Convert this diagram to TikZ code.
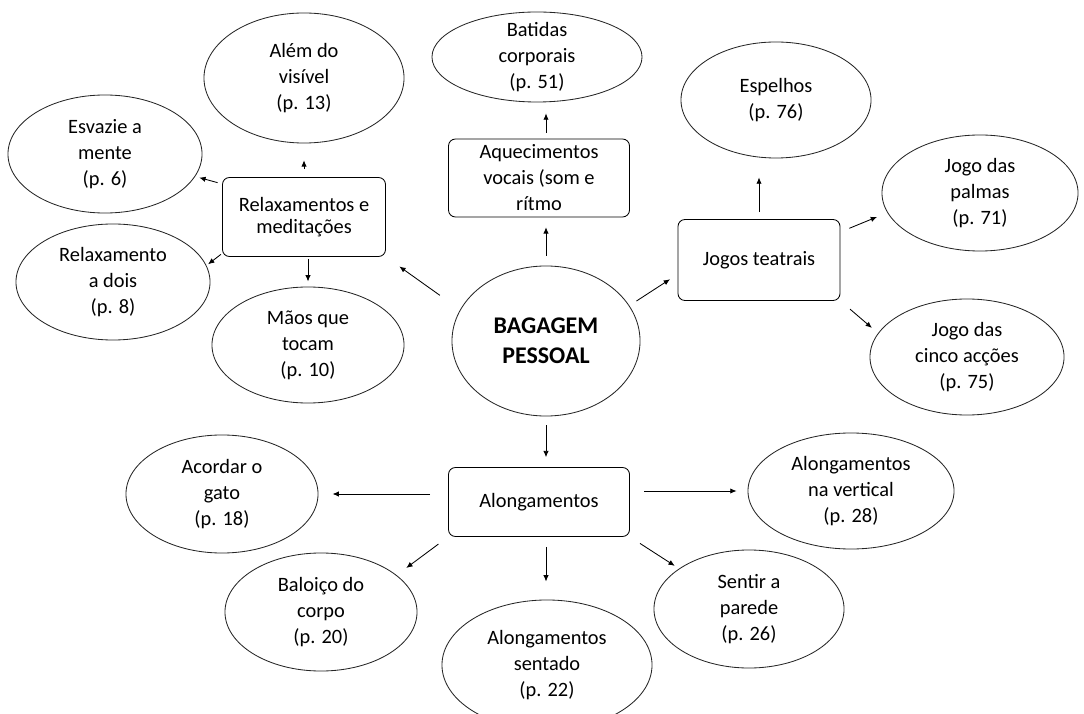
\documentclass[tikz,border=0pt]{standalone}
\usepackage{fontspec}
\setmainfont{Carlito}
\usetikzlibrary{shapes.geometric,arrows.meta}

\begin{document}
\begin{tikzpicture}[x=0.025cm, y=-0.025cm,
        bubble/.style={ellipse, draw=black!85, line width=0.6pt, inner sep=0pt, align=center, font=\fontsize{14.5}{18.5}\selectfont},
        topic/.style={rectangle, rounded corners=5pt, draw, line width=0.6pt, inner sep=0pt, align=center, font=\fontsize{14.5}{18.5}\selectfont},
        arr/.style={-{Latex[length=4.5pt,width=3.8pt]}, line width=0.6pt}]

        \useasboundingbox (0,0) rectangle (1084,714);
        \clip (0,0) rectangle (1084,714);

        \node[bubble, minimum width=4.7cm, minimum height=3.75cm, font=\fontsize{17}{21.5}\selectfont\bfseries] (bag) at (546,341) {BAGAGEM\\PESSOAL};

        \node[topic, minimum width=4.075cm, minimum height=1.975cm, font=\fontsize{14.5}{16}\selectfont] (relax) at (304,217) {Relaxamentos e\\meditações};
        \node[bubble, minimum width=5cm, minimum height=3.25cm] (alem) at (304,78) {Além do\\visível\\(p. 13)};
        \node[bubble, minimum width=4.85cm, minimum height=2.95cm] (esvazie) at (105,154) {Esvazie a\\mente\\(p. 6)};
        \node[bubble, minimum width=4.85cm, minimum height=2.9cm] (dois) at (113,282) {Relaxamento\\a dois\\(p. 8)};
        \node[bubble, minimum width=4.8cm, minimum height=2.9cm] (maos) at (308,345) {Mãos que\\tocam\\(p. 10)};

        \node[topic, minimum width=4.525cm, minimum height=1.95cm] (aquec) at (539,178) {Aquecimentos\\vocais (som e\\rítmo};
        \node[bubble, minimum width=5.25cm, minimum height=2.25cm, inner ysep=-8pt] (batidas) at (537,57) {Batidas\\corporais\\(p. 51)};

        \node[topic, minimum width=4.05cm, minimum height=2.025cm] (jogos) at (759,260) {Jogos teatrais};
        \node[bubble, minimum width=4.75cm, minimum height=2.9cm] (espelhos) at (776,100) {Espelhos\\(p. 76)};
        \node[bubble, minimum width=4.9cm, minimum height=2.9cm] (palmas) at (980,193) {Jogo das\\palmas\\(p. 71)};
        \node[bubble, minimum width=4.85cm, minimum height=2.9cm] (cinco) at (967,357) {Jogo das\\cinco acções\\(p. 75)};

        \node[topic, minimum width=4.525cm, minimum height=1.725cm] (along) at (539,502) {Alongamentos};
        \node[bubble, minimum width=4.8cm, minimum height=2.95cm] (acordar) at (222,494) {Acordar o\\gato\\(p. 18)};
        \node[bubble, minimum width=4.8cm, minimum height=2.95cm] (baloico) at (321,612) {Baloiço do\\corpo\\(p. 20)};
        \node[bubble, minimum width=5.25cm, minimum height=3.25cm] (sentado) at (547,665) {Alongamentos\\sentado\\(p. 22)};
        \node[bubble, minimum width=5.15cm, minimum height=2.9cm] (vertical) at (851,491) {Alongamentos\\na vertical\\(p. 28)};
        \node[bubble, minimum width=4.75cm, minimum height=2.95cm] (sentir) at (749,609) {Sentir a\\parede\\(p. 26)};

        \draw[arr, shorten <=17.6pt, shorten >=11.7pt] (bag.160) -- (relax.south east);
        \draw[arr, shorten <=5.7pt, shorten >=12pt] (relax.north) -- (alem.south);
        \draw[arr, shorten <=3.3pt, shorten >=3pt] (relax.158) -- (esvazie.346);
        \draw[arr, shorten <=1pt, shorten >=1.4pt] (relax.204) -- (dois.10);
        \draw[arr, shorten <=1.4pt, shorten >=3.6pt] (relax.south -| maos.north) -- (maos.north);

        \draw[arr, shorten <=7pt, shorten >=7pt] (bag.north) -- (bag.north |- aquec.south);
        \draw[arr, shorten <=4.3pt, shorten >=7.8pt] (bag.north |- aquec.north) -- (bag.north |- batidas.south);

        \draw[arr, shorten <=6pt, shorten >=6.4pt] (bag.23) -- (jogos.190);
        \draw[arr, shorten <=5pt, shorten >=13.5pt] (jogos.north) -- (jogos.north |- espelhos.south);
        \draw[arr, shorten <=6.8pt, shorten >=7.9pt] (jogos.19) -- (palmas.192);
        \draw[arr, shorten <=9pt, shorten >=5.7pt] (jogos.south east) -- (cinco.165);

        \draw[arr, shorten <=6.4pt, shorten >=7pt] (bag.south) -- (bag.south |- along.north);
        \draw[arr, shorten <=12.8pt, shorten >=10pt] (along.west |- acordar.east) -- (acordar.east);
        \draw[arr, shorten <=8.5pt, shorten >=8.5pt] (along.south west) -- (baloico.26);
        \draw[arr, shorten <=7pt, shorten >=12.8pt] (bag.south |- along.south) -- (bag.south |- sentado.north);
        \draw[arr, shorten <=10pt, shorten >=7.8pt] (along.east |- vertical.west) -- (vertical.west);
        \draw[arr, shorten <=8.5pt, shorten >=3.6pt] (along.south east) -- (sentir.150);
    \end{tikzpicture}
\end{document}
